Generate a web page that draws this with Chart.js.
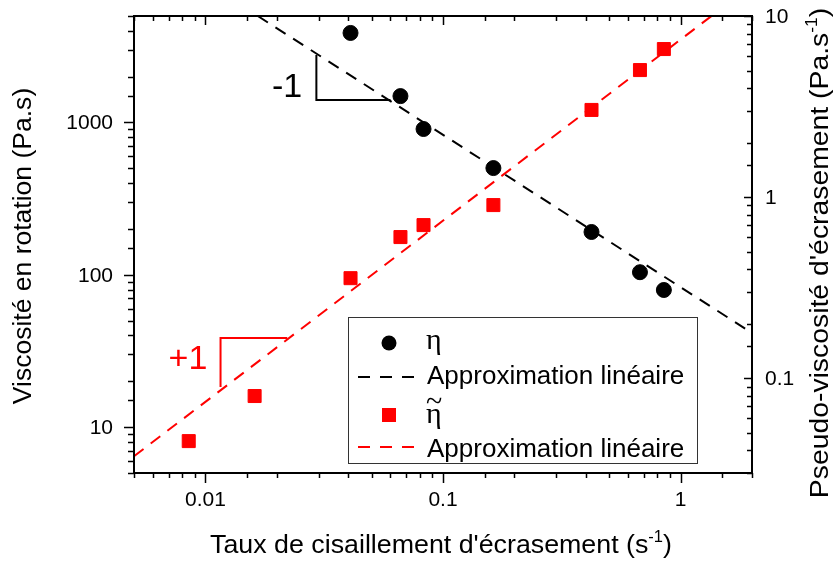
<!DOCTYPE html>
<html>
<head>
<meta charset="utf-8">
<script src="https://cdn.jsdelivr.net/npm/chart.js@4.4.1/dist/chart.umd.min.js"></script>
<style>
  html, body { margin: 0; padding: 0; background: #fff; }
  #wrap { width: 835px; height: 562px; }
</style>
</head>
<body>
<div id="wrap"><canvas id="viscoChart" width="835" height="562"></canvas></div>
<script>
// shear rate (s-1) and viscosities
const rateEta = [0.0408, 0.0662, 0.0828, 0.163, 0.422, 0.675, 0.851];
const etaValues = [3870, 1490, 906, 502, 191, 104, 79.5];
const rateEtaTilde = [0.0085, 0.0161, 0.0408, 0.0662, 0.0828, 0.163, 0.422, 0.675, 0.851];
const etaTildeValues = [0.045, 0.0798, 0.357, 0.602, 0.701, 0.904, 3.03, 5.03, 6.57];

// fitted power laws (end points of the dashed lines)
const fitEtaX = [0.0166, 2];
const fitEtaY = [5000, 41.5];
const fitTildeX = [0.005, 1.35];
const fitTildeY = [0.0371, 10];

// labelled ticks
const xTicks = [0.01, 0.1, 1];
const yTicks = [10, 100, 1000];
const y1Ticks = [0.1, 1, 10];

// slope triangles (data coordinates)
const slopeBlack = { x: [0.0293, 0.0293, 0.0601], y: [2773, 1405, 1405], label: '-1' };
const slopeRed = { x: [0.0221, 0.01157, 0.01157], y: [0.1667, 0.1667, 0.0894], label: '+1' };

const SANS = '"Liberation Sans", Arial, sans-serif';
const SERIF = '"Liberation Serif", "DejaVu Serif", serif';

function toPoints(xs, ys) {
  return xs.map((x, i) => ({ x: x, y: ys[i] }));
}

function isDecade(v) {
  const l = Math.log10(v);
  return Math.abs(l - Math.round(l)) < 1e-6;
}

// text with a superscript part, centered on 0 at baseline 0
function supText(ctx, base, sup, after) {
  ctx.font = '26px ' + SANS;
  const w1 = ctx.measureText(base).width;
  const w3 = ctx.measureText(after).width;
  ctx.font = '16px ' + SANS;
  const w2 = ctx.measureText(sup).width;
  let x = -(w1 + w2 + w3) / 2;
  ctx.textAlign = 'left';
  ctx.textBaseline = 'alphabetic';
  ctx.font = '26px ' + SANS;
  ctx.fillText(base, x, 0);
  x += w1;
  ctx.font = '16px ' + SANS;
  ctx.fillText(sup, x, -11);
  x += w2;
  ctx.font = '26px ' + SANS;
  ctx.fillText(after, x, 0);
}

const framePlugin = {
  id: 'frame',
  afterDraw(chart) {
    const ctx = chart.ctx;
    const a = chart.chartArea;
    const sx = chart.scales.x, sy = chart.scales.y, sy1 = chart.scales.y1;
    ctx.save();
    ctx.strokeStyle = '#000';
    ctx.fillStyle = '#000';

    // box
    ctx.lineWidth = 2;
    ctx.strokeRect(a.left, a.top, a.right - a.left, a.bottom - a.top);

    // tick marks
    ctx.lineWidth = 1.5;
    ctx.beginPath();
    sx.ticks.forEach(t => {
      const px = Math.round(sx.getPixelForValue(t.value)) + 0.5;
      const major = isDecade(t.value);
      ctx.moveTo(px, a.bottom); ctx.lineTo(px, a.bottom + (major ? 10 : 5));
      ctx.moveTo(px, a.top); ctx.lineTo(px, a.top + (major ? 9 : 5));
    });
    sy.ticks.forEach(t => {
      const py = Math.round(sy.getPixelForValue(t.value)) + 0.5;
      ctx.moveTo(a.left, py); ctx.lineTo(a.left - (isDecade(t.value) ? 10 : 6), py);
    });
    sy1.ticks.forEach(t => {
      const py = Math.round(sy1.getPixelForValue(t.value)) + 0.5;
      ctx.moveTo(a.right, py); ctx.lineTo(a.right - (isDecade(t.value) ? 8 : 5), py);
    });
    ctx.stroke();

    // tick labels
    ctx.font = '21px ' + SANS;
    ctx.textBaseline = 'middle';
    ctx.textAlign = 'center';
    xTicks.forEach(v => ctx.fillText(String(v), sx.getPixelForValue(v), 500));
    ctx.textAlign = 'right';
    yTicks.forEach(v => ctx.fillText(String(v), a.left - 21, sy.getPixelForValue(v) + 1));
    ctx.textAlign = 'left';
    y1Ticks.forEach(v => ctx.fillText(String(v), a.right + 13, sy1.getPixelForValue(v) + 1));

    // axis titles (slightly widened like the original export)
    ctx.save();
    ctx.translate(441, 553);
    ctx.scale(1.03, 1);
    supText(ctx, "Taux de cisaillement d'écrasement (s", '-1', ')');
    ctx.restore();

    ctx.save();
    ctx.translate(31, 246);
    ctx.rotate(-Math.PI / 2);
    ctx.scale(1.02, 1);
    ctx.font = '26px ' + SANS;
    ctx.textAlign = 'center';
    ctx.textBaseline = 'alphabetic';
    ctx.fillText('Viscosité en rotation (Pa.s)', 0, 0);
    ctx.restore();

    ctx.save();
    ctx.translate(828, 253);
    ctx.rotate(-Math.PI / 2);
    ctx.scale(1.09, 1);
    supText(ctx, "Pseudo-viscosité d'écrasement (Pa.s", '-1', ')');
    ctx.restore();

    // slope triangles
    ctx.lineWidth = 2;
    [[slopeBlack, sy, '#000', 287, 88], [slopeRed, sy1, '#ff0000', 188, 360]].forEach(s => {
      const tri = s[0], ys = s[1];
      ctx.strokeStyle = s[2];
      ctx.fillStyle = s[2];
      ctx.beginPath();
      tri.x.forEach((x, i) => {
        const px = sx.getPixelForValue(x), py = ys.getPixelForValue(tri.y[i]);
        if (i === 0) ctx.moveTo(px, py); else ctx.lineTo(px, py);
      });
      ctx.stroke();
      ctx.font = '34px ' + SANS;
      ctx.textAlign = 'center';
      ctx.textBaseline = 'middle';
      ctx.fillText(tri.label, s[3], s[4]);
    });

    // legend
    ctx.fillStyle = '#fff';
    ctx.fillRect(348, 317, 349, 146);
    ctx.strokeStyle = '#333';
    ctx.lineWidth = 1;
    ctx.strokeRect(348.5, 317.5, 349, 146);

    ctx.fillStyle = '#000';
    ctx.beginPath();
    ctx.arc(389, 343, 7.5, 0, Math.PI * 2);
    ctx.fill();
    ctx.fillStyle = '#ff0000';
    ctx.fillRect(382, 408, 14, 14);

    ctx.lineWidth = 2;
    ctx.setLineDash([12, 10]);
    ctx.strokeStyle = '#000';
    ctx.beginPath(); ctx.moveTo(358, 377); ctx.lineTo(416, 377); ctx.stroke();
    ctx.strokeStyle = '#ff0000';
    ctx.beginPath(); ctx.moveTo(358, 447); ctx.lineTo(416, 447); ctx.stroke();
    ctx.setLineDash([]);

    ctx.fillStyle = '#000';
    ctx.textAlign = 'left';
    ctx.textBaseline = 'alphabetic';
    ctx.font = '30px ' + SERIF;
    ctx.fillText('η', 426, 349);
    ctx.fillText('η', 426, 423);
    ctx.fillText('~', 426, 411);
    ctx.font = '26px ' + SANS;
    ctx.fillText('Approximation linéaire', 427, 384);
    ctx.fillText('Approximation linéaire', 427, 457);
    ctx.restore();
  }
};

const ctx = document.getElementById('viscoChart').getContext('2d');

new Chart(ctx, {
  type: 'scatter',
  data: {
    datasets: [
      {
        label: 'η',
        data: toPoints(rateEta, etaValues),
        yAxisID: 'y',
        backgroundColor: '#000',
        borderColor: '#000',
        pointStyle: 'circle',
        pointRadius: 7.5,
        order: 1
      },
      {
        label: 'Approximation linéaire',
        data: toPoints(fitEtaX, fitEtaY),
        yAxisID: 'y',
        showLine: true,
        borderColor: '#000',
        borderWidth: 2,
        borderDash: [12, 9],
        pointRadius: 0,
        order: 2
      },
      {
        label: 'η̃',
        data: toPoints(rateEtaTilde, etaTildeValues),
        yAxisID: 'y1',
        backgroundColor: '#ff0000',
        borderColor: '#ff0000',
        pointStyle: 'rect',
        pointRadius: 9.2,
        order: 1
      },
      {
        label: 'Approximation linéaire',
        data: toPoints(fitTildeX, fitTildeY),
        yAxisID: 'y1',
        showLine: true,
        borderColor: '#ff0000',
        borderWidth: 2,
        borderDash: [12, 9],
        pointRadius: 0,
        order: 2
      }
    ]
  },
  options: {
    responsive: false,
    animation: false,
    layout: {
      padding: { top: 16, left: 0, right: 0, bottom: 0 }
    },
    plugins: {
      legend: { display: false },
      tooltip: { enabled: false }
    },
    scales: {
      x: {
        type: 'logarithmic',
        position: 'bottom',
        min: 0.005,
        max: 2,
        grid: { display: false },
        border: { display: false },
        ticks: { display: false, autoSkip: false },
        afterFit: s => { s.height = 89; }
      },
      y: {
        type: 'logarithmic',
        position: 'left',
        min: 5,
        max: 5000,
        grid: { display: false },
        border: { display: false },
        ticks: { display: false, autoSkip: false },
        afterFit: s => { s.width = 134; }
      },
      y1: {
        type: 'logarithmic',
        position: 'right',
        min: 0.03,
        max: 10,
        grid: { display: false },
        border: { display: false },
        ticks: { display: false, autoSkip: false },
        afterFit: s => { s.width = 83; }
      }
    }
  },
  plugins: [framePlugin]
});
</script>
</body>
</html>
